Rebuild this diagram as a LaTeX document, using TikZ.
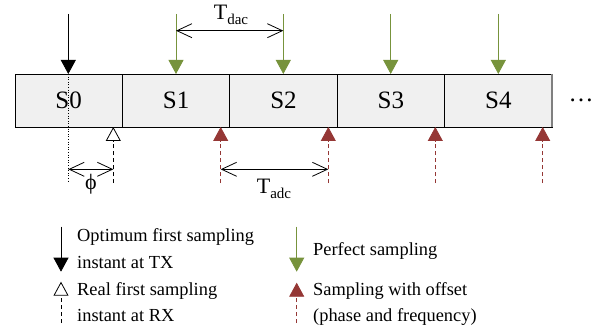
\documentclass[tikz,border=0pt]{standalone}
\usepackage{fontspec}
\setmainfont{Liberation Serif}
\usetikzlibrary{arrows.meta}
\definecolor{pgreen}{HTML}{77933C}
\definecolor{pred}{HTML}{953735}
\definecolor{cellgray}{HTML}{F0F0F0}
\tikzset{
  cell/.style={draw=black, fill=cellgray, line width=0.8pt, minimum width=107.4pt, minimum height=53pt, inner sep=0pt, outer sep=0pt, font=\fontsize{25}{30}\selectfont},
  legtext/.style={anchor=base west, inner sep=0pt, font=\fontsize{18.4}{22}\selectfont},
  blackarr/.style={line width=0.8pt, -{Triangle[length=14pt,width=15pt]}},
  greenarr/.style={pgreen, line width=0.8pt, -{Triangle[length=14pt,width=15pt]}},
  openarr/.style={line width=0.8pt, dash pattern=on 4pt off 3pt, -{Triangle[open,length=14pt,width=15pt,fill=white]}},
  redarr/.style={pred, line width=0.8pt, dash pattern=on 4pt off 3pt, -{Triangle[length=14pt,width=15pt]}},
  dimarr/.style={line width=0.8pt, {Straight Barb[length=15pt,width=14pt]}-{Straight Barb[length=15pt,width=14pt]}},
  tlabel/.style={anchor=base, inner sep=0pt, font=\fontsize{22}{26}\selectfont}
}
\newcommand{\subsc}[1]{\raisebox{-5pt}{\fontsize{15}{15}\selectfont #1}}
\begin{document}
\begin{tikzpicture}[x=1pt,y=-1pt]
\useasboundingbox (0,0) rectangle (601,331);
% cells
\node[cell] (s0) at (68.7,100.5) {S0};
\node[cell] (s1) at (176.1,100.5) {S1};
\node[cell] (s2) at (283.5,100.5) {S2};
\node[cell] (s3) at (390.9,100.5) {S3};
\node[cell] (s4) at (498.3,100.5) {S4};
\draw[gray, line width=1.4pt] (s4.north east) -- (s4.south east);
\node[inner sep=0pt, font=\fontsize{25}{30}\selectfont] (dots) at (581,100) {\dots};
% black TX arrow
\coordinate (b0) at (68.3,14);
\coordinate (b1) at (68.3,74);
\coordinate (b2) at (68.3,183);
\draw[blackarr] (b0) -- (b1);
\draw[line width=0.6pt, dotted] (b1) -- (b2);
% green arrows
\foreach \i/\x in {1/176,2/283.3,3/390.7,4/498.3}{
  \coordinate (g\i) at (\x,14);
  \coordinate (gt\i) at (\x,74);
  \draw[greenarr] (g\i) -- (gt\i);
}
% Tdac
\coordinate (da) at (176,30.7);
\coordinate (db) at (283.3,30.7);
\draw[dimarr] (da) -- (db);
\node[tlabel] (tdac) at (231,20) {T\subsc{dac}};
% real RX open triangle
\coordinate (o0) at (113.3,183);
\coordinate (o1) at (113.3,127);
\draw[openarr] (o0) -- (o1);
% red arrows
\foreach \i/\x in {1/220.7,2/328.3,3/435.3,4/542.7}{
  \coordinate (r\i) at (\x,183);
  \coordinate (rt\i) at (\x,127);
  \draw[redarr] (r\i) -- (rt\i);
}
% phi
\coordinate (pa) at (68.3,169.3);
\coordinate (pb) at (113.3,169.3);
\draw[dimarr] (pa) -- (pb);
\node[tlabel] (phi) at (91,189) {\symbol{"03D5}};
% Tadc
\coordinate (aa) at (220.7,169.3);
\coordinate (ab) at (328.3,169.3);
\draw[dimarr] (aa) -- (ab);
\node[tlabel] (tadc) at (274,193) {T\subsc{adc}};
% legend
\coordinate (l1a) at (61,226.7);
\coordinate (l1b) at (61,271.7);
\draw[blackarr] (l1a) -- (l1b);
\node[legtext] (t1a) at (77,241.7) {Optimum first sampling};
\node[legtext] (t1b) at (77,268) {instant at TX};
\coordinate (l2a) at (61,323);
\coordinate (l2b) at (61,281.7);
\draw[openarr] (l2a) -- (l2b);
\node[legtext] (t2a) at (77,295) {Real first sampling};
\node[legtext] (t2b) at (77,321.7) {instant at RX};
\coordinate (l3a) at (296.7,226.7);
\coordinate (l3b) at (296.7,271.7);
\draw[greenarr] (l3a) -- (l3b);
\node[legtext] (t3a) at (313,255) {Perfect sampling};
\coordinate (l4a) at (296.7,323);
\coordinate (l4b) at (296.7,282.7);
\draw[redarr] (l4a) -- (l4b);
\node[legtext] (t4a) at (313,295) {Sampling with offset};
\node[legtext] (t4b) at (313,321.7) {(phase and frequency)};
\end{tikzpicture}
\end{document}
